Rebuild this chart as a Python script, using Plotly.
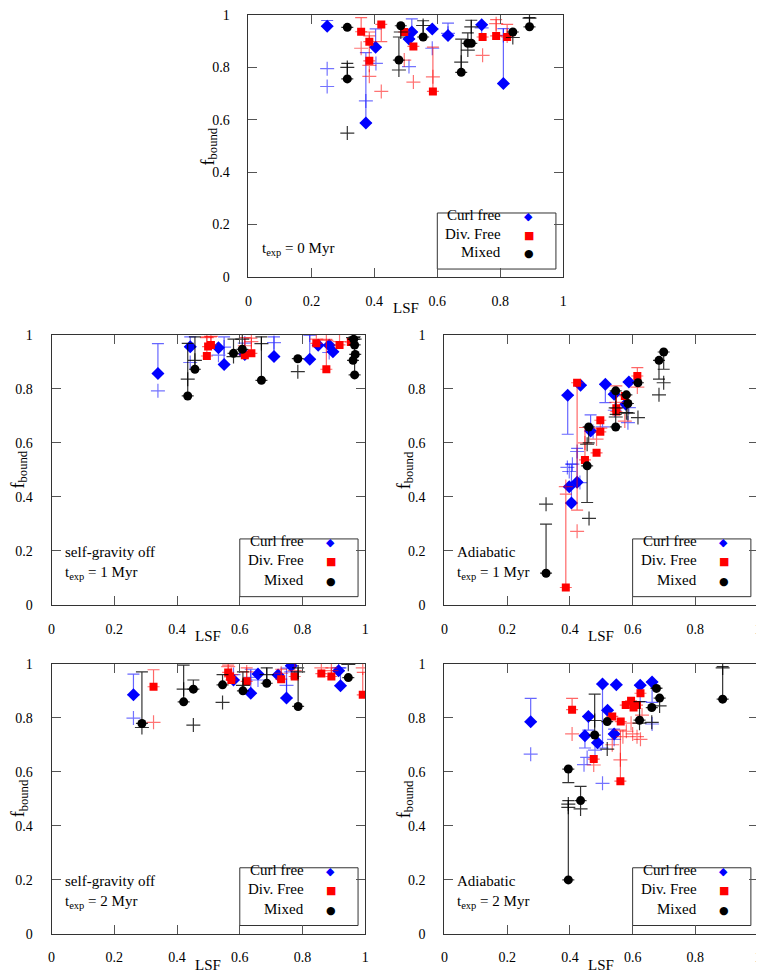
import plotly.graph_objects as go

# ---------------- data ----------------
# Panel A : t_exp = 0 Myr
a_curl_x = [0.25, 0.373, 0.404, 0.51, 0.519, 0.584, 0.634, 0.741, 0.81]
a_curl_y = [0.957, 0.588, 0.877, 0.908, 0.935, 0.947, 0.922, 0.963, 0.738]
a_curl_cap = [0.979, 0.856, 0.947, None, 0.985, None, 0.969, None, 0.948]
a_curl_px = [0.25, 0.25, 0.373, 0.405, 0.51, 0.584, 0.634, 0.741, 0.81]
a_curl_py = [0.795, 0.727, 0.672, 0.815, 0.803, 0.873, 0.93, 0.951, 0.922]

a_div_x = [0.358, 0.384, 0.384, 0.422, 0.495, 0.524, 0.586, 0.744, 0.787, 0.822]
a_div_y = [0.936, 0.898, 0.825, 0.964, 0.935, 0.88, 0.708, 0.916, 0.92, 0.916]
a_div_cap = [0.99, 0.92, 0.935, 0.898, None, None, 0.877, None, 0.982, 0.964]
a_div_px = [0.358, 0.384, 0.384, 0.422, 0.495, 0.524, 0.586, 0.744, 0.787, 0.822]
a_div_py = [0.873, 0.766, 0.808, 0.708, 0.828, 0.744, 0.764, 0.846, 0.967, 0.92]

a_mix_x = [0.314, 0.314, 0.478, 0.484, 0.555, 0.676, 0.697, 0.708, 0.84, 0.893]
a_mix_y = [0.953, 0.756, 0.828, 0.959, 0.916, 0.781, 0.892, 0.892, 0.935, 0.955]
a_mix_cap = [None, 0.815, 0.916, None, 0.978, 0.908, 0.932, 0.98, None, 0.99]
a_mix_px = [0.314, 0.314, 0.478, 0.484, 0.555, 0.676, 0.697, 0.708, 0.84, 0.893]
a_mix_py = [0.549, 0.8, 0.79, 0.935, 0.96, 0.82, 0.866, 0.955, 0.914, 0.988]

# Panel B : self-gravity off, t_exp = 1 Myr
b_curl_x = [0.339, 0.442, 0.532, 0.55, 0.616, 0.709, 0.823, 0.85, 0.885, 0.897]
b_curl_y = [0.857, 0.956, 0.953, 0.891, 0.928, 0.92, 0.91, 0.962, 0.962, 0.938]
b_curl_cap = [0.968, 0.993, None, 0.993, None, 0.993, 1.0, None, None, None]
b_curl_px = [0.339, 0.442, 0.532, 0.55, 0.616, 0.709, 0.823, 0.885]
b_curl_py = [0.793, 0.898, 0.925, 0.955, 0.97, 0.972, 1.0, 0.935]

b_div_x = [0.495, 0.499, 0.508, 0.616, 0.637, 0.844, 0.876, 0.918, 0.954]
b_div_y = [0.922, 0.957, 0.963, 0.925, 0.932, 0.969, 0.873, 0.963, 0.974]
b_div_cap = [0.993, None, 0.993, 0.99, 0.988, None, 0.984, None, None]
b_div_px = [0.495, 0.508, 0.616, 0.637, 0.844, 0.876, 0.918]
b_div_py = [0.99, 0.995, 0.96, 0.975, 0.985, 0.98, 0.975]

b_mix_x = [0.434, 0.457, 0.58, 0.608, 0.669, 0.785, 0.961, 0.963, 0.966, 0.966, 0.968]
b_mix_y = [0.774, 0.873, 0.932, 0.947, 0.832, 0.912, 0.906, 0.984, 0.963, 0.852, 0.928]
b_mix_cap = [0.969, 0.993, 0.985, None, 0.993, None, None, None, None, 0.993, None]
b_mix_px = [0.434, 0.457, 0.58, 0.608, 0.669, 0.785, 0.961, 0.966]
b_mix_py = [0.836, 0.906, 0.92, 0.985, 0.968, 0.864, 0.99, 0.985]

# Panel C : Adiabatic, t_exp = 1 Myr
c_curl_x = [0.393, 0.398, 0.405, 0.423, 0.434, 0.466, 0.513, 0.541, 0.578, 0.588]
c_curl_y = [0.777, 0.437, 0.377, 0.454, 0.814, 0.644, 0.817, 0.78, 0.743, 0.826]
c_curl_cap = [0.632, None, 0.521, 0.58, None, 0.704, 0.749, None, None, None]
c_curl_px = [0.392, 0.398, 0.408, 0.423, 0.432, 0.474, 0.504, 0.543, 0.585, 0.588]
c_curl_py = [0.509, 0.494, 0.521, 0.568, 0.453, 0.642, 0.659, 0.721, 0.675, 0.731]

c_div_x = [0.387, 0.423, 0.448, 0.485, 0.497, 0.497, 0.548, 0.548, 0.575, 0.615]
c_div_y = [0.064, 0.823, 0.537, 0.563, 0.684, 0.641, 0.716, 0.728, 0.774, 0.848]
c_div_cap = [0.41, 0.351, 0.657, None, None, None, 0.811, None, None, 0.879]
c_div_px = [0.387, 0.423, 0.448, 0.485, 0.497, 0.548, 0.575, 0.615]
c_div_py = [0.438, 0.272, 0.6, 0.614, 0.655, 0.75, 0.681, 0.807]

c_mix_x = [0.324, 0.455, 0.46, 0.546, 0.546, 0.58, 0.585, 0.617, 0.684, 0.699]
c_mix_y = [0.117, 0.515, 0.659, 0.659, 0.793, 0.778, 0.746, 0.823, 0.906, 0.937]
c_mix_cap = [0.299, 0.379, 0.6, None, 0.706, None, None, None, 0.836, 0.873]
c_mix_px = [0.324, 0.461, 0.455, 0.546, 0.546, 0.58, 0.585, 0.617, 0.684, 0.699]
c_mix_py = [0.373, 0.32, 0.595, 0.696, 0.73, 0.712, 0.71, 0.694, 0.778, 0.823]

# Panel D : self-gravity off, t_exp = 2 Myr
d_curl_x = [0.261, 0.58, 0.635, 0.658, 0.722, 0.749, 0.764, 0.915, 0.921]
d_curl_y = [0.885, 0.94, 0.891, 0.962, 0.959, 0.873, 0.993, 0.974, 0.919]
d_curl_cap = [0.962, None, 0.98, None, None, 0.984, None, None, 0.985]
d_curl_px = [0.261, 0.58, 0.635, 0.658, 0.749, 0.764, 0.915]
d_curl_py = [0.799, 0.96, 0.95, 0.94, 0.92, 0.97, 0.985]

d_div_x = [0.325, 0.563, 0.569, 0.573, 0.622, 0.732, 0.775, 0.86, 0.892, 0.992]
d_div_y = [0.915, 0.968, 0.952, 0.94, 0.935, 0.943, 0.953, 0.964, 0.953, 0.885]
d_div_cap = [0.978, 0.995, None, None, 0.985, 0.98, None, None, 0.985, 0.968]
d_div_px = [0.325, 0.563, 0.573, 0.622, 0.732, 0.775, 0.86, 0.892, 0.992]
d_div_py = [0.783, 0.99, 0.96, 0.97, 0.965, 0.975, 0.985, 0.975, 0.985]

d_mix_x = [0.288, 0.421, 0.452, 0.545, 0.61, 0.686, 0.786, 0.946]
d_mix_y = [0.779, 0.859, 0.906, 0.922, 0.9, 0.928, 0.842, 0.949]
d_mix_cap = [0.97, 0.995, 0.94, 0.96, 0.97, 0.985, 0.985, None]
d_mix_px = [0.288, 0.421, 0.452, 0.545, 0.61, 0.686, 0.786, 0.946]
d_mix_py = [0.764, 0.906, 0.773, 0.857, 0.92, 0.96, 0.97, 0.998]

# Panel E : Adiabatic, t_exp = 2 Myr
e_curl_x = [0.275, 0.448, 0.459, 0.488, 0.504, 0.52, 0.541, 0.548, 0.624, 0.662]
e_curl_y = [0.785, 0.733, 0.805, 0.707, 0.925, 0.828, 0.74, 0.922, 0.921, 0.933]
e_curl_cap = [0.872, 0.688, 0.754, None, 0.688, None, 0.758, None, None, 0.857]
e_curl_px = [0.275, 0.445, 0.455, 0.48, 0.504, 0.541, 0.624, 0.662]
e_curl_py = [0.665, 0.626, 0.653, 0.68, 0.557, 0.72, 0.86, 0.777]

e_div_x = [0.407, 0.476, 0.535, 0.561, 0.562, 0.578, 0.595, 0.603, 0.614, 0.625]
e_div_y = [0.83, 0.647, 0.805, 0.565, 0.786, 0.847, 0.863, 0.838, 0.847, 0.891]
e_div_cap = [0.872, None, None, 0.754, None, None, None, None, None, None]
e_div_px = [0.407, 0.476, 0.535, 0.561, 0.569, 0.58, 0.595, 0.6, 0.614, 0.625, 0.63]
e_div_py = [0.74, 0.625, 0.7, 0.644, 0.73, 0.75, 0.78, 0.74, 0.73, 0.72, 0.81]

e_mix_x = [0.395, 0.395, 0.434, 0.479, 0.519, 0.622, 0.661, 0.676, 0.686, 0.887]
e_mix_y = [0.199, 0.61, 0.493, 0.736, 0.786, 0.791, 0.838, 0.909, 0.873, 0.869]
e_mix_cap = [0.493, 0.56, 0.546, 0.888, None, 0.86, None, 0.91, None, 0.99]
e_mix_px = [0.395, 0.395, 0.434, 0.479, 0.519, 0.622, 0.661, 0.686, 0.887]
e_mix_py = [0.48, 0.468, 0.462, 0.79, 0.684, 0.78, 0.783, 0.844, 0.985]

tick_vals = [0, 0.2, 0.4, 0.6, 0.8, 1]
tick_text = ["0", "0.2", "0.4", "0.6", "0.8", "1"]
series_names = ["Curl free", "Div. Free", "Mixed"]
panel_labels = [
    "t<sub>exp</sub> = 0 Myr",
    "self-gravity off<br>t<sub>exp</sub> = 1 Myr",
    "Adiabatic<br>t<sub>exp</sub> = 1 Myr",
    "self-gravity off<br>t<sub>exp</sub> = 2 Myr",
    "Adiabatic<br>t<sub>exp</sub> = 2 Myr",
]

# ---------------- styling ----------------
SERIF = "Liberation Serif"
STYLES = [
    dict(symbol="diamond", size=10, color="#0000ff", bar="rgba(0,0,255,0.6)",
         plus="rgba(0,0,255,0.55)", glyph="\u25C6"),
    dict(symbol="square", size=8, color="#ff0000", bar="rgba(255,0,0,0.6)",
         plus="rgba(255,0,0,0.55)", glyph="\u25A0"),
    dict(symbol="circle", size=9, color="#000000", bar="rgba(0,0,0,0.8)",
         plus="rgba(0,0,0,0.8)", glyph="\u25CF"),
]

panels = [
    [(a_curl_x, a_curl_y, a_curl_cap, a_curl_px, a_curl_py),
     (a_div_x, a_div_y, a_div_cap, a_div_px, a_div_py),
     (a_mix_x, a_mix_y, a_mix_cap, a_mix_px, a_mix_py)],
    [(b_curl_x, b_curl_y, b_curl_cap, b_curl_px, b_curl_py),
     (b_div_x, b_div_y, b_div_cap, b_div_px, b_div_py),
     (b_mix_x, b_mix_y, b_mix_cap, b_mix_px, b_mix_py)],
    [(c_curl_x, c_curl_y, c_curl_cap, c_curl_px, c_curl_py),
     (c_div_x, c_div_y, c_div_cap, c_div_px, c_div_py),
     (c_mix_x, c_mix_y, c_mix_cap, c_mix_px, c_mix_py)],
    [(d_curl_x, d_curl_y, d_curl_cap, d_curl_px, d_curl_py),
     (d_div_x, d_div_y, d_div_cap, d_div_px, d_div_py),
     (d_mix_x, d_mix_y, d_mix_cap, d_mix_px, d_mix_py)],
    [(e_curl_x, e_curl_y, e_curl_cap, e_curl_px, e_curl_py),
     (e_div_x, e_div_y, e_div_cap, e_div_px, e_div_py),
     (e_mix_x, e_mix_y, e_mix_cap, e_mix_px, e_mix_py)],
]

W, H = 764, 972
# panel frames in figure pixels: (left, right, top, bottom)
frames = [
    (239, 557, 0, 266),
    (40, 357, 325, 599),
    (437, 754, 325, 599),
    (40, 357, 659, 933),
    (437, 754, 659, 933),
]
title_shift = [-39, -32, -39, -32, -39]


def bar_lengths(y, cap):
    up = [(c - v) if (c is not None and c > v) else 0 for v, c in zip(y, cap)]
    dn = [(v - c) if (c is not None and c < v) else 0 for v, c in zip(y, cap)]
    return up, dn


fig = go.Figure()
layout = dict(
    width=W, height=H, margin=dict(l=0, r=0, t=0, b=0),
    paper_bgcolor="white", plot_bgcolor="white", showlegend=False,
    font=dict(family=SERIF, size=14, color="black"),
)
annotations = []
shapes = []

for i, (series, (l, r, t, b)) in enumerate(zip(panels, frames)):
    k = "" if i == 0 else str(i + 1)
    xa, ya = "x" + k, "y" + k
    axis_common = dict(
        range=[0, 1], tickmode="array", tickvals=tick_vals, ticktext=tick_text,
        ticks="inside", ticklen=9, tickwidth=1, tickcolor="#555555",
        showline=True, linecolor="#333333", linewidth=1, mirror="allticks",
        showgrid=False, zeroline=False, ticklabeloverflow="allow",
        tickfont=dict(family=SERIF, size=14, color="black"), fixedrange=True,
    )
    layout["xaxis" + k] = dict(axis_common, domain=[l / W, min(1, r / W)], anchor=ya,
                               ticklabelstandoff=11)
    layout["yaxis" + k] = dict(axis_common, domain=[max(0, 1 - b / H), min(1, 1 - t / H)],
                               anchor=xa, ticklabelstandoff=15)

    for sty, (sx, sy, scap, spx, spy) in zip(STYLES, series):
        up, dn = bar_lengths(sy, scap)
        fig.add_trace(go.Scatter(
            x=sx, y=sy, mode="markers", xaxis=xa, yaxis=ya,
            marker=dict(symbol=sty["symbol"], size=sty["size"], color=sty["color"],
                        line=dict(width=0)),
            error_y=dict(type="data", symmetric=False, array=up, arrayminus=dn,
                         color=sty["bar"], thickness=1.2, width=6),
        ))
        fig.add_trace(go.Scatter(
            x=spx, y=spy, mode="markers", xaxis=xa, yaxis=ya,
            marker=dict(symbol="cross-thin", size=10, color=sty["plus"],
                        line=dict(width=1.2, color=sty["plus"])),
        ))

    dx, dy = xa + " domain", ya + " domain"
    # axis titles
    annotations.append(dict(text="f<sub>bound</sub>", xref=dx, yref=dy, x=0, y=0.5,
                            xanchor="center", yanchor="middle",
                            xshift=title_shift[i], textangle=-90, showarrow=False,
                            font=dict(family=SERIF, size=18)))
    annotations.append(dict(text="LSF", xref=dx, yref=dy, x=0.5, y=0,
                            xanchor="center", yanchor="middle", yshift=-31,
                            showarrow=False, font=dict(family=SERIF, size=15)))
    # panel label
    annotations.append(dict(text=panel_labels[i], xref=dx, yref=dy, x=0.035,
                            y=0.155 if i > 0 else 0.107, xanchor="left",
                            yanchor="middle", align="left", showarrow=False,
                            font=dict(family=SERIF, size=15)))
    # legend box
    shapes.append(dict(type="rect", xref=dx, yref=dy, x0=0.6, x1=0.977,
                       y0=0.03, y1=0.244, line=dict(color="#333333", width=1),
                       fillcolor="white", layer="below"))
    for j, (name, sty) in enumerate(zip(series_names, STYLES)):
        yy = [0.2, 0.127, 0.055][j]
        annotations.append(dict(text=name, xref=dx, yref=dy, x=0.81, y=yy,
                                xanchor="right", showarrow=False,
                                font=dict(family=SERIF, size=15)))
        annotations.append(dict(text=sty["glyph"], xref=dx, yref=dy, x=0.89, y=yy,
                                xanchor="center", showarrow=False,
                                font=dict(family="DejaVu Sans", size=11,
                                          color=sty["color"])))

layout["annotations"] = annotations
layout["shapes"] = shapes
fig.update_layout(**layout)
fig.write_html("out.html")
